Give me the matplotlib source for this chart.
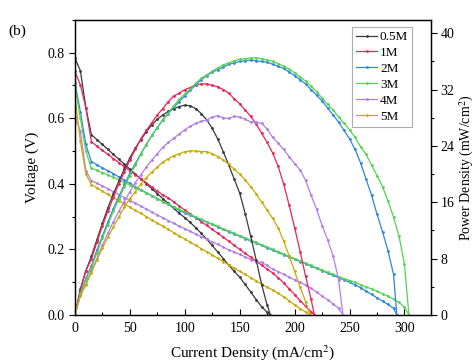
import numpy as np
import matplotlib
matplotlib.use('Agg')
import matplotlib.pyplot as plt
from matplotlib.ticker import MultipleLocator

plt.rcParams['font.family'] = ['Liberation Serif', 'DejaVu Serif']
plt.rcParams['mathtext.fontset'] = 'stix'

labels = ['0.5M', '1M', '2M', '3M', '4M', '5M']
colors = ['#3a3a3a', '#e8245a', '#2f86dc', '#55d255', '#b27ee6', '#c9aa08']

# current density (mA/cm2)
i_05 = list(range(0, 180, 5)) + [178]
i_1 = list(range(0, 220, 5)) + [218]
i_2 = list(range(0, 295, 5)) + [293]
i_3 = list(range(0, 305, 5)) + [304]
i_4 = list(range(0, 245, 5)) + [244]
i_5 = list(range(0, 215, 5)) + [214]

# voltage (V)
v_05 = [0.784, 0.745, 0.632, 0.55, 0.535, 0.52, 0.505, 0.49, 0.475, 0.46, 0.445, 0.43,
        0.415, 0.40, 0.385, 0.37, 0.355, 0.34, 0.325, 0.31, 0.297, 0.282, 0.266, 0.249,
        0.231, 0.212, 0.192, 0.172, 0.152, 0.133, 0.115, 0.093, 0.07, 0.047, 0.025, 0.008, 0.0]
v_1 = [0.743, 0.702, 0.631, 0.529, 0.515, 0.502, 0.49, 0.477, 0.465, 0.452, 0.44, 0.428,
       0.416, 0.403, 0.39, 0.378, 0.366, 0.357, 0.345, 0.332, 0.32, 0.308, 0.297, 0.285,
       0.273, 0.261, 0.249, 0.237, 0.225, 0.212, 0.2, 0.188, 0.176, 0.164, 0.152, 0.14,
       0.128, 0.114, 0.098, 0.08, 0.062, 0.044, 0.026, 0.01, 0.0]
v_2 = [0.708, 0.62, 0.52, 0.468, 0.458, 0.449, 0.44, 0.431, 0.421, 0.411, 0.401, 0.391,
       0.382, 0.373, 0.364, 0.355, 0.346, 0.337, 0.328, 0.319, 0.311, 0.304, 0.297, 0.29,
       0.283, 0.276, 0.268, 0.261, 0.254, 0.247, 0.24, 0.233, 0.226, 0.219, 0.212, 0.205,
       0.198, 0.191, 0.184, 0.177, 0.17, 0.163, 0.156, 0.149, 0.142, 0.135, 0.128, 0.121,
       0.114, 0.107, 0.1, 0.092, 0.083, 0.073, 0.063, 0.052, 0.042, 0.032, 0.02, 0.0]
v_3 = [0.697, 0.6, 0.5, 0.448, 0.441, 0.434, 0.427, 0.42, 0.412, 0.404, 0.396, 0.388,
       0.38, 0.372, 0.364, 0.355, 0.346, 0.338, 0.33, 0.322, 0.314, 0.306, 0.299, 0.292,
       0.284, 0.277, 0.27, 0.263, 0.256, 0.249, 0.242, 0.235, 0.228, 0.221, 0.214, 0.207,
       0.2, 0.193, 0.186, 0.179, 0.172, 0.165, 0.158, 0.151, 0.144, 0.137, 0.13, 0.124,
       0.117, 0.111, 0.105, 0.099, 0.092, 0.086, 0.079, 0.072, 0.065, 0.057, 0.048, 0.038,
       0.024, 0.0]
v_4 = [0.605, 0.56, 0.44, 0.41, 0.402, 0.394, 0.385, 0.376, 0.367, 0.358, 0.349, 0.341,
       0.332, 0.323, 0.314, 0.305, 0.297, 0.288, 0.279, 0.271, 0.263, 0.255, 0.247, 0.239,
       0.231, 0.223, 0.215, 0.207, 0.199, 0.192, 0.185, 0.177, 0.169, 0.163, 0.16, 0.151,
       0.14, 0.132, 0.124, 0.115, 0.107, 0.1, 0.091, 0.081, 0.07, 0.058, 0.046, 0.034,
       0.02, 0.0]
v_5 = [0.667, 0.53, 0.43, 0.397, 0.388, 0.378, 0.368, 0.358, 0.348, 0.339, 0.329, 0.319,
       0.31, 0.3, 0.29, 0.28, 0.271, 0.261, 0.251, 0.241, 0.232, 0.222, 0.212, 0.202,
       0.193, 0.183, 0.173, 0.163, 0.153, 0.143, 0.133, 0.124, 0.114, 0.104, 0.094, 0.085,
       0.076, 0.067, 0.055, 0.043, 0.031, 0.019, 0.009, 0.0]

# power density (mW/cm2)
p_05 = [0, 3.7, 6.3, 8.3, 10.7, 13.0, 15.2, 17.2, 19.0, 20.7, 22.3, 23.7, 24.9, 26.0,
        27.0, 27.8, 28.4, 28.9, 29.3, 29.6, 29.8, 29.7, 29.3, 28.6, 27.7, 26.5, 25.0,
        23.2, 21.3, 19.3, 17.3, 14.4, 11.2, 7.8, 4.3, 1.4, 0]
p_1 = [0, 3.5, 6.3, 7.9, 10.3, 12.6, 14.7, 16.7, 18.6, 20.3, 22.0, 23.5, 25.0, 26.2,
       27.3, 28.4, 29.3, 30.3, 31.1, 31.5, 32.0, 32.3, 32.7, 32.8, 32.8, 32.6, 32.4,
       32.0, 31.5, 30.7, 30.0, 29.1, 28.2, 27.1, 25.8, 24.5, 23.0, 21.1, 18.6, 15.6,
       12.4, 9.0, 5.5, 2.2, 0]
p_2 = [0, 3.1, 5.2, 7.0, 9.2, 11.2, 13.2, 15.1, 16.8, 18.5, 20.1, 21.5, 22.9, 24.2,
       25.5, 26.6, 27.7, 28.6, 29.5, 30.3, 31.1, 31.9, 32.7, 33.4, 34.0, 34.5, 34.8,
       35.2, 35.6, 35.8, 36.0, 36.1, 36.2, 36.1, 36.0, 35.9, 35.6, 35.3, 35.0, 34.5,
       34.0, 33.4, 32.8, 32.0, 31.2, 30.4, 29.4, 28.4, 27.4, 26.2, 25.0, 23.5, 21.6,
       19.3, 17.0, 14.3, 11.8, 9.1, 5.8, 0]
p_3 = [0, 3.0, 5.0, 6.7, 8.8, 10.9, 12.8, 14.7, 16.5, 18.2, 19.8, 21.3, 22.8, 24.2,
       25.5, 26.6, 27.7, 28.7, 29.7, 30.6, 31.4, 32.1, 32.9, 33.6, 34.1, 34.6, 35.1,
       35.5, 35.8, 36.1, 36.3, 36.4, 36.5, 36.5, 36.4, 36.2, 36.0, 35.7, 35.3, 34.9,
       34.4, 33.8, 33.2, 32.5, 31.7, 30.8, 29.9, 29.1, 28.1, 27.2, 26.3, 25.2, 23.9,
       22.8, 21.3, 19.8, 18.2, 16.2, 13.9, 11.2, 7.2, 0]
p_4 = [0, 2.8, 4.4, 6.2, 8.0, 9.9, 11.6, 13.2, 14.7, 16.1, 17.5, 18.8, 19.9, 21.0,
       22.0, 22.9, 23.8, 24.5, 25.1, 25.7, 26.3, 26.8, 27.2, 27.5, 27.7, 28.1, 28.3,
       28.0, 27.9, 28.2, 28.1, 27.8, 27.4, 27.4, 27.2, 26.4, 25.2, 24.4, 23.5, 22.5,
       21.5, 20.6, 19.1, 17.0, 15.0, 12.7, 10.7, 8.4, 5.0, 0]
p_5 = [0, 2.7, 4.3, 6.0, 7.8, 9.5, 11.0, 12.5, 13.9, 15.3, 16.5, 17.5, 18.6, 19.5,
       20.3, 21.0, 21.7, 22.2, 22.6, 22.9, 23.2, 23.3, 23.3, 23.2, 23.2, 22.9, 22.5,
       22.0, 21.4, 20.7, 20.0, 19.2, 18.2, 17.2, 16.0, 14.9, 13.7, 12.4, 10.5, 8.4,
       6.2, 3.9, 1.9, 0]

currents = [i_05, i_1, i_2, i_3, i_4, i_5]
voltages = [v_05, v_1, v_2, v_3, v_4, v_5]
powers = [p_05, p_1, p_2, p_3, p_4, p_5]

fig = plt.figure(figsize=(4.74, 3.62), dpi=100)
ax = fig.add_axes([0.158, 0.130, 0.751, 0.815])
ax2 = ax.twinx()

style = dict(lw=0.9, marker='o', ms=2.0, mew=0)
for cur, v, p, c, lab in zip(currents, voltages, powers, colors, labels):
    ax.plot(cur, v, color=c, label=lab, **style)
    ax2.plot(cur, p, color=c, **style)

ax.set_xlim(0, 324)
ax.set_ylim(0, 0.9)
ax2.set_ylim(0, 41.9)

ax.xaxis.set_major_locator(MultipleLocator(50))
ax.xaxis.set_minor_locator(MultipleLocator(25))
ax.yaxis.set_major_locator(MultipleLocator(0.2))
ax.yaxis.set_minor_locator(MultipleLocator(0.1))
ax2.yaxis.set_major_locator(MultipleLocator(8))
ax2.yaxis.set_minor_locator(MultipleLocator(4))
ax.yaxis.set_major_formatter(plt.FormatStrFormatter('%.1f'))

ax.tick_params(axis='x', which='major', direction='in', length=4, width=0.8, labelsize=10, pad=5)
ax.tick_params(axis='x', which='minor', direction='in', length=2.5, width=0.8)
ax.tick_params(axis='y', which='major', direction='out', length=4, width=0.8, labelsize=10)
ax.tick_params(axis='y', which='minor', direction='out', length=2.5, width=0.8)
ax2.tick_params(axis='y', which='major', direction='out', length=4, width=0.8, labelsize=10, pad=3)
ax2.tick_params(axis='y', which='minor', direction='out', length=2.5, width=0.8)

for sp in ax.spines.values():
    sp.set_linewidth(0.9)
for sp in ax2.spines.values():
    sp.set_linewidth(0.9)

ax.set_xlabel('Current Density (mA/cm$^2$)', fontsize=11, labelpad=6)
ax.set_ylabel('Voltage (V)', fontsize=11, labelpad=6)
ax2.set_ylabel('Power Density (mW/cm$^2$)', fontsize=10, labelpad=2)

leg = ax.legend(loc='upper right', bbox_to_anchor=(0.955, 0.985), fontsize=9.5,
                frameon=True, fancybox=False, edgecolor='#999999', handlelength=1.6,
                handletextpad=0.2, labelspacing=0.28, borderpad=0.3, borderaxespad=0.2)
leg.get_frame().set_linewidth(0.8)

fig.text(0.017, 0.905, '(b)', fontsize=11)

fig.savefig('out.png', dpi=100)
